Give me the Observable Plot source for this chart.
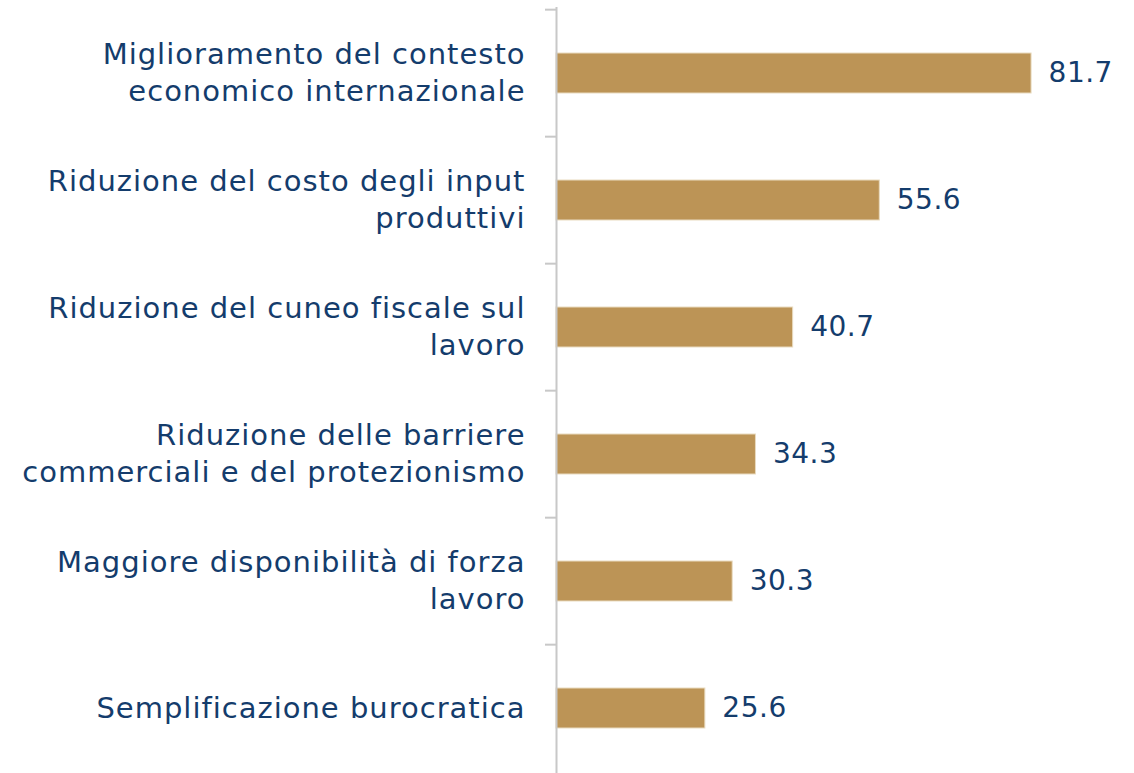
<!DOCTYPE html>
<html>
<head>
<meta charset="utf-8">
<script src="https://cdn.jsdelivr.net/npm/d3@7"></script>
<script src="https://cdn.jsdelivr.net/npm/@observablehq/plot@0.6"></script>
<style>
  html, body { margin: 0; padding: 0; background: #fff; }
  svg { display: block; }
</style>
</head>
<body>
<div id="chart"></div>
<script>
const categories = [
  "Miglioramento del contesto\neconomico internazionale",
  "Riduzione del costo degli input\nproduttivi",
  "Riduzione del cuneo fiscale sul\nlavoro",
  "Riduzione delle barriere\ncommerciali e del protezionismo",
  "Maggiore disponibilità di forza\nlavoro",
  "Semplificazione burocratica"
];
const values = [81.7, 55.6, 40.7, 34.3, 30.3, 25.6];
const valueLabels = ["81.7", "55.6", "40.7", "34.3", "30.3", "25.6"];

const data = categories.map((c, i) => ({cat: c, v: values[i], label: valueLabels[i]}));

const W = 1134, H = 773;
const mTop = 7, mBottom = 0, mLeft = 556, mRight = 25.6;
const step = (H - mTop - mBottom) / categories.length;
const navy = "#143C6C";
const font = "DejaVu Sans";

const chart = Plot.plot({
  width: W,
  height: H,
  marginTop: mTop,
  marginBottom: mBottom,
  marginLeft: mLeft,
  marginRight: mRight,
  style: {fontFamily: font, background: "#fff"},
  x: {domain: [0, 95], axis: null},
  y: {domain: categories, axis: null, paddingInner: 0.6875, paddingOuter: 0.34375},
  marks: [
    Plot.barX(data, {y: "cat", x: "v", fill: "#BC9456", stroke: "#E9DBC0", strokeWidth: 1}),
    Plot.ruleX([0], {stroke: "#C8C8C8", strokeWidth: 2}),
    Plot.ruleY(categories, {y: d => d, x1: 0, x2: 0, insetLeft: -11, dy: -step / 2, stroke: "#C8C8C8", strokeWidth: 2}),
    Plot.text(data, {y: "cat", x: "v", text: "label", textAnchor: "start", dx: 17, fill: navy, fontSize: 28}),
    Plot.text(data, {y: "cat", x: 0, text: "cat", textAnchor: "end", dx: -31, dy: -3, fill: navy, fontSize: 29, lineHeight: 1.3})
  ]
});
chart.querySelectorAll("g[aria-label='text']").forEach((g, i) => {
  g.setAttribute("letter-spacing", i === 1 ? "1" : "0.5");
});
document.getElementById("chart").appendChild(chart);
</script>
</body>
</html>
